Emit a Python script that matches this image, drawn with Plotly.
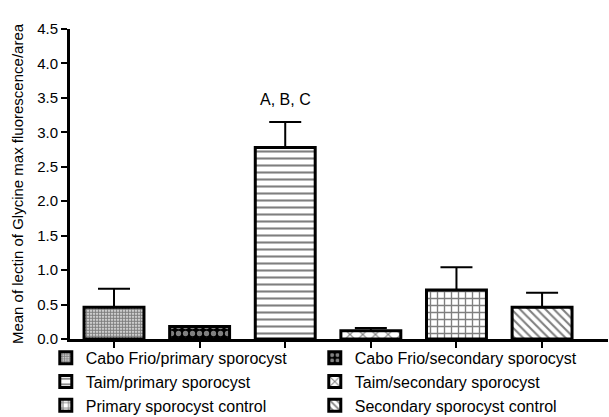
import plotly.graph_objects as go

groups = ["Cabo Frio/primary sporocyst", "Cabo Frio/secondary sporocyst",
          "Taim/primary sporocyst", "Taim/secondary sporocyst",
          "Primary sporocyst control", "Secondary sporocyst control"]
order_pos = [0, 1, 2, 3, 4, 5]
means = [0.46, 0.18, 2.78, 0.12, 0.71, 0.46]
errors = [0.27, 0.0, 0.37, 0.04, 0.33, 0.21]
y_ticks = [0.0, 0.5, 1.0, 1.5, 2.0, 2.5, 3.0, 3.5, 4.0, 4.5]
y_tick_text = ["0.0", "0.5", "1.0", "1.5", "2.0", "2.5", "3.0", "3.5", "4.0", "4.5"]
sig_label = "A, B, C"
sig_group = 2
sig_y = 3.33

patterns = [
    dict(shape=".", size=3, solidity=0.7, fgcolor="black", bgcolor="white"),
    dict(shape=".", size=7, solidity=0.45, fgcolor="white", bgcolor="black"),
    dict(shape="-", size=7, solidity=0.3, fgcolor="black", bgcolor="white"),
    dict(shape="x", size=9, solidity=0.25, fgcolor="black", bgcolor="white"),
    dict(shape="+", size=7, solidity=0.35, fgcolor="black", bgcolor="white"),
    dict(shape="\\", size=6, solidity=0.35, fgcolor="black", bgcolor="white"),
]

fig = go.Figure()
for i, name in enumerate(groups):
    fig.add_trace(go.Bar(
        x=[order_pos[i]], y=[means[i]], name=name, width=0.7,
        marker=dict(color="white", line=dict(color="black", width=3), pattern=patterns[i]),
        error_y=dict(type="data", array=[errors[i]], arrayminus=[0], symmetric=False,
                     color="black", thickness=2, width=16, visible=errors[i] > 0),
    ))

fig.add_annotation(x=sig_group, y=sig_y, text=sig_label, showarrow=False,
                   font=dict(size=16, color="black"), yanchor="bottom")

fig.update_layout(
    width=609, height=417,
    margin=dict(l=70, r=1, t=29, b=78, autoexpand=False),
    plot_bgcolor="white", paper_bgcolor="white",
    font=dict(family="Liberation Sans, Arial, sans-serif", size=15, color="black"),
    showlegend=True,
    legend=dict(orientation="h", x=-0.045, xanchor="left",
                y=-0.006, yanchor="top",
                entrywidth=224, font=dict(size=16), itemwidth=30,
                bgcolor="rgba(0,0,0,0)"),
)
fig.update_xaxes(range=[-0.514, 5.77], tickvals=order_pos, ticktext=[""] * 6,
                 showline=True, linecolor="black", linewidth=3,
                 ticks="outside", ticklen=6, tickwidth=2, tickcolor="black",
                 showgrid=False, zeroline=False)
fig.update_yaxes(range=[0, 4.5], tickvals=y_ticks, ticktext=y_tick_text,
                 showline=True, linecolor="black", linewidth=3,
                 ticks="outside", ticklen=6, tickwidth=2, tickcolor="black",
                 showgrid=False, zeroline=False,
                 title=dict(text="Mean of lectin of Glycine max fluorescence/area",
                            font=dict(size=15), standoff=10),
                 tickfont=dict(size=15))

fig.write_html("out.html", config={"displayModeBar": False},
               post_script="document.body.style.margin='0';")
